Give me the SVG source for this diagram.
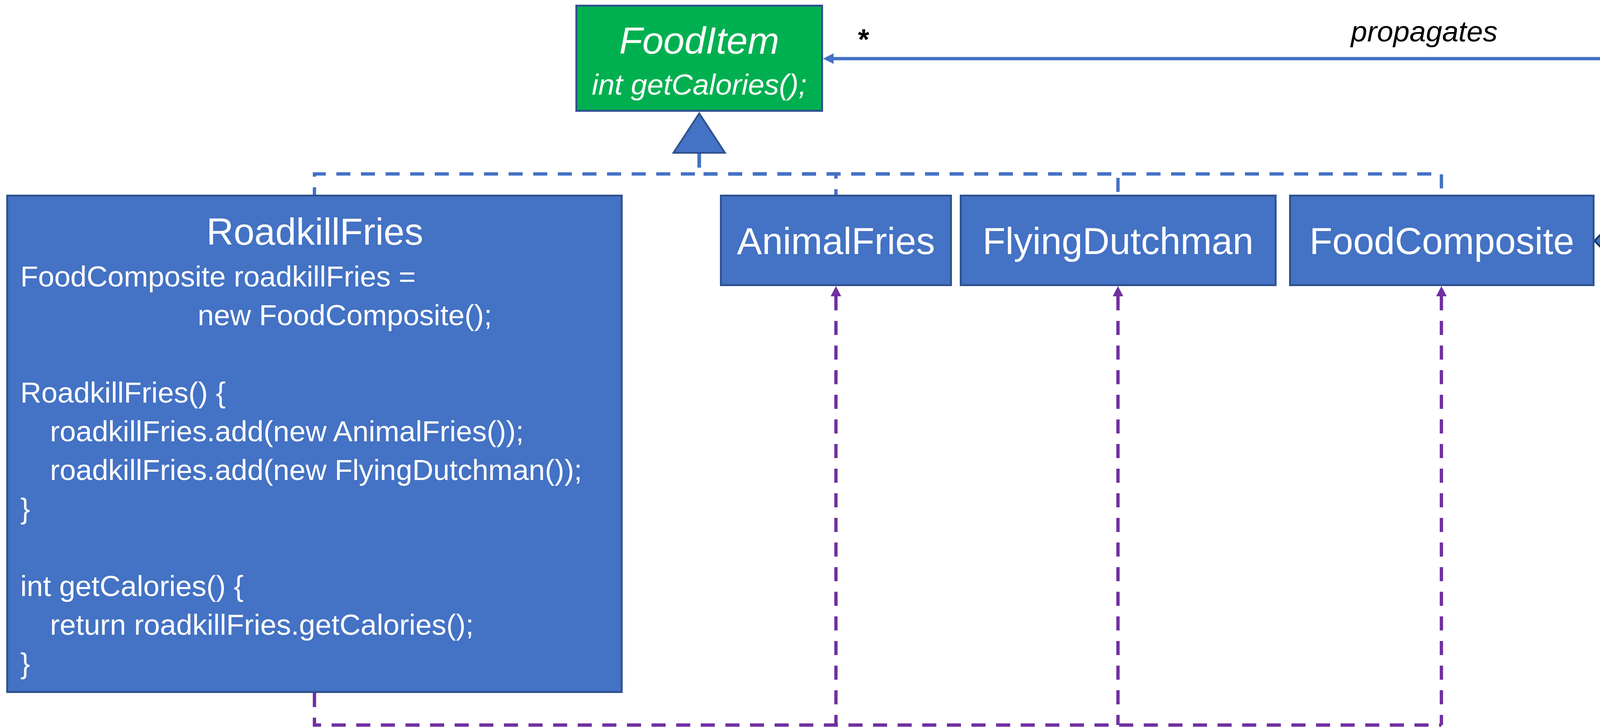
<svg xmlns="http://www.w3.org/2000/svg" width="4295" height="1860" viewBox="0 0 4295 1860">
<defs>
<style>
.box{fill:#4472C4;stroke:#2F528F;stroke-width:5}
.green{fill:#00B050;stroke:#2F528F;stroke-width:5}
.t{font-family:"Liberation Sans",Arial,sans-serif;fill:#FFFFFF}
.title{font-size:96px;text-anchor:middle}
.code{font-size:74.5px}
.it{font-style:italic}
.blk{fill:#000000;font-family:"Liberation Sans",Arial,sans-serif}
.dashB{fill:none;stroke:#4472C4;stroke-width:8.5;stroke-dasharray:36 27}
.dashP{fill:none;stroke:#7030A0;stroke-width:8.5;stroke-dasharray:36 27}
.solidB{fill:none;stroke:#4472C4;stroke-width:8.5}
</style>
<marker id="arrB" markerUnits="userSpaceOnUse" markerWidth="27" markerHeight="27" refX="0" refY="13.5" orient="auto">
<path d="M0,0 L27,13.5 L0,27 z" fill="#4472C4"/>
</marker>
<marker id="arrP" markerUnits="userSpaceOnUse" markerWidth="26" markerHeight="27" refX="0" refY="13.5" orient="auto-start-reverse">
<path d="M0,0 L26,13.5 L0,27 z" fill="#7030A0"/>
</marker>
</defs>
<rect width="4295" height="1860" fill="#FFFFFF"/>

<g id="connectors">
<path class="dashB" d="M1790,393 V445 H805 V498"/>
<path class="dashB" d="M1790,393 V445 H2140 V498"/>
<path class="dashB" d="M1790,393 V445 H2862 V498"/>
<path class="dashB" d="M1790,393 V445 H3690 V498"/>
<polygon points="1790,290 1856,391 1724,391" fill="#4472C4" stroke="#2F528F" stroke-width="4.5"/>
<path class="solidB" d="M4207,616 H4289 V150 H2134" marker-end="url(#arrB)"/>
<polygon points="4082,616 4144,552 4207,616 4144,680" fill="#4472C4" stroke="#1F3864" stroke-width="5"/>
<path class="dashP" d="M805,1773 V1855 H3690"/>
<path class="dashP" d="M2140,758 V1855" marker-start="url(#arrP)"/>
<path class="dashP" d="M2862,758 V1855" marker-start="url(#arrP)"/>
<path class="dashP" d="M3690,758 V1855" marker-start="url(#arrP)"/>
<text class="blk" x="2211" y="126" font-size="74" font-weight="bold" text-anchor="middle">*</text>
<text class="blk it" x="3646" y="106" font-size="75" text-anchor="middle">propagates</text>
</g>

<g id="FoodItem">
<rect class="green" x="1475.5" y="14.5" width="629" height="269"/>
<text class="t it" x="1790" y="137" font-size="97" text-anchor="middle">FoodItem</text>
<text class="t it" x="1790" y="242" font-size="75" text-anchor="middle">int getCalories();</text>
</g>

<g id="RoadkillFries">
<rect class="box" x="18.5" y="500.5" width="1573" height="1270"/>
<text class="t title" x="806" y="626">RoadkillFries</text>
<text class="t code" x="52" y="733">FoodComposite roadkillFries =</text>
<text class="t code" x="506" y="832">new FoodComposite();</text>
<text class="t code" x="52" y="1030">RoadkillFries() {</text>
<text class="t code" x="128" y="1129">roadkillFries.add(new AnimalFries());</text>
<text class="t code" x="128" y="1228">roadkillFries.add(new FlyingDutchman());</text>
<text class="t code" x="52" y="1327">}</text>
<text class="t code" x="52" y="1525">int getCalories() {</text>
<text class="t code" x="128" y="1624">return roadkillFries.getCalories();</text>
<text class="t code" x="52" y="1723">}</text>
</g>

<g id="AnimalFries">
<rect class="box" x="1845.5" y="500.5" width="589" height="229"/>
<text class="t title" x="2140" y="650">AnimalFries</text>
</g>

<g id="FlyingDutchman">
<rect class="box" x="2459.5" y="500.5" width="806" height="229"/>
<text class="t title" x="2862" y="650">FlyingDutchman</text>
</g>

<g id="FoodComposite">
<rect class="box" x="3302.5" y="500.5" width="777" height="229"/>
<text class="t title" x="3691" y="650">FoodComposite</text>
</g>
</svg>
